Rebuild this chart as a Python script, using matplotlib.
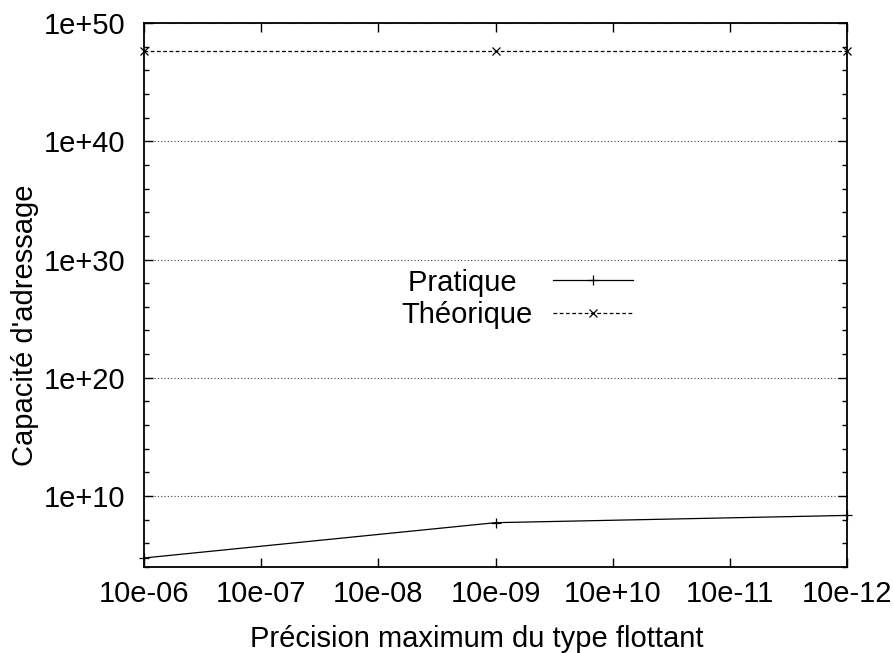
import matplotlib
matplotlib.use("Agg")
import matplotlib.pyplot as plt
from matplotlib.ticker import FixedLocator, FixedFormatter, NullFormatter

plt.rcParams['font.family'] = ['Liberation Sans', 'DejaVu Sans']

x_labels = ["10e-06", "10e-07", "10e-08", "10e-09", "10e+10", "10e-11", "10e-12"]
x_positions = [0, 3, 6]          # indices of categories with data
pratique = [5.8e4, 5.6e7, 2.3e8]
theorique = [4e47, 4e47, 4e47]
y_major = [1e10, 1e20, 1e30, 1e40, 1e50]
y_major_labels = ["1e+10", "1e+20", "1e+30", "1e+40", "1e+50"]
y_minor = [10.0**k for k in range(4, 51, 2)]

FS = 21

fig = plt.figure(figsize=(8.93, 6.53), dpi=100)
ax = fig.add_axes([144/893, 86/653, 703/893, 544/653])

ax.plot(x_positions, pratique, color='black', lw=0.9, marker='+', ms=7, mew=0.9,
        label='Pratique  ', clip_on=False, zorder=3)
ax.plot(x_positions, theorique, color='black', lw=0.9, marker='x', ms=6, mew=0.9,
        dashes=(3, 2), label='Théorique', clip_on=False, zorder=3)

ax.set_yscale('log')
ax.set_ylim(1e4, 1e50)
ax.set_xlim(0, len(x_labels) - 1)
ax.set_xticks(range(len(x_labels)))
ax.set_xticklabels(x_labels)
ax.yaxis.set_major_locator(FixedLocator(y_major))
ax.yaxis.set_major_formatter(FixedFormatter(y_major_labels))
ax.yaxis.set_minor_locator(FixedLocator([v for v in y_minor if v not in y_major]))
ax.yaxis.set_minor_formatter(NullFormatter())

ax.tick_params(axis='both', which='major', direction='in', length=6.5, width=1,
               labelsize=FS, top=True, right=True)
ax.tick_params(axis='x', which='major', pad=9)
ax.tick_params(axis='y', which='major', pad=13.7)
ax.tick_params(axis='both', which='minor', direction='in', length=3.6, width=1,
               top=True, right=True)

ax.grid(True, axis='y', which='major', color='#444444', linestyle=(0, (1, 2)), lw=0.8)
for s in ax.spines.values():
    s.set_linewidth(1.3)

ax.set_xlabel("Précision maximum du type flottant", fontsize=FS, va='top')
ax.xaxis.set_label_coords(0.474, -0.1057)
ax.set_ylabel("Capacité d'adressage", fontsize=FS, va='center')
ax.yaxis.set_label_coords(-0.169, 0.445)

leg = ax.legend(loc='center', bbox_to_anchor=(0.531, 0.493), frameon=False,
                markerfirst=False, fontsize=FS, handlelength=2.72,
                handletextpad=0.7, labelspacing=0.15, borderpad=0)

fig.savefig("out.png", dpi=100)
